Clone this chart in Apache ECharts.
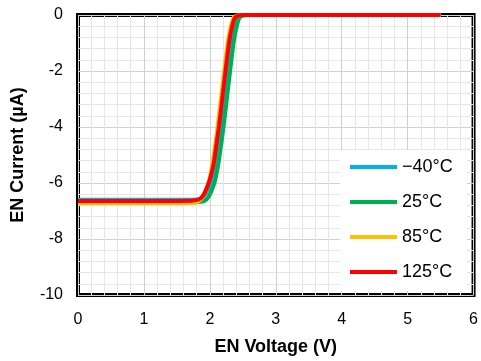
<!DOCTYPE html>
<html>
<head>
<meta charset="utf-8">
<script src="https://cdn.jsdelivr.net/npm/echarts@6/dist/echarts.min.js"></script>
<style>
  html, body { margin: 0; padding: 0; background: #fff; }
  #main { width: 481px; height: 361px; }
</style>
</head>
<body>
<div id="main"></div>
<script>
// EN current vs EN voltage, one curve per temperature
const seriesNames = ["\u221240\u00b0C", "25\u00b0C", "85\u00b0C", "125\u00b0C"]
const seriesColors = ["#00b0f0", "#00b050", "#ffc000", "#ff0000"]

const curveM40 = [
  [0, -6.6], [1, -6.6], [1.74, -6.6], [1.87, -6.56], [1.93, -6.42], [1.98, -6.18],
  [2.03, -5.85], [2.09, -5.25], [2.13, -4.6], [2.17, -3.95], [2.21, -3.15],
  [2.25, -2.35], [2.29, -1.55], [2.33, -0.85], [2.37, -0.38], [2.41, -0.1],
  [2.46, -0.02], [2.53, 0], [5.5, 0]
]
const curve25 = [
  [0, -6.7], [1, -6.7], [1.8, -6.69], [1.92, -6.64], [1.98, -6.5], [2.03, -6.25],
  [2.08, -5.9], [2.13, -5.3], [2.17, -4.65], [2.21, -3.95], [2.25, -3.15],
  [2.29, -2.35], [2.33, -1.55], [2.37, -0.85], [2.41, -0.38], [2.45, -0.1],
  [2.5, -0.02], [2.57, 0], [5.5, 0]
]
const curve85 = [
  [0, -6.72], [1, -6.72], [1.72, -6.71], [1.83, -6.66], [1.89, -6.5], [1.94, -6.25],
  [1.99, -5.9], [2.04, -5.3], [2.08, -4.65], [2.12, -3.95], [2.16, -3.15],
  [2.2, -2.35], [2.24, -1.55], [2.28, -0.85], [2.32, -0.38], [2.36, -0.1],
  [2.41, -0.02], [2.48, 0], [5.5, 0]
]
const curve125 = [
  [0, -6.64], [1, -6.64], [1.72, -6.63], [1.84, -6.58], [1.9, -6.44], [1.95, -6.2],
  [2.0, -5.88], [2.06, -5.28], [2.1, -4.62], [2.14, -3.95], [2.18, -3.15],
  [2.22, -2.35], [2.26, -1.55], [2.3, -0.85], [2.34, -0.38], [2.38, -0.1],
  [2.43, -0.02], [2.5, 0], [5.5, 0]
]
const curves = [curveM40, curve25, curve85, curve125]

const font = "Liberation Sans, Arial, sans-serif"

const myChart = echarts.init(document.getElementById("main"))
myChart.setOption({
  animation: false,
  textStyle: { fontFamily: font },
  grid: {
    left: 78, right: 6, top: 15, bottom: 65,
    show: true, borderColor: "#000", borderWidth: 4, backgroundColor: "#fff"
  },
  legend: {
    orient: "vertical",
    left: 340, top: 150,
    padding: [8, 14, 10, 10],
    backgroundColor: "#fff",
    itemWidth: 47, itemHeight: 4, itemGap: 17,
    icon: "rect",
    textStyle: { fontSize: 18, color: "#000", fontFamily: font, lineHeight: 18 },
    data: seriesNames
  },
  xAxis: {
    type: "value", min: 0, max: 6, interval: 1,
    name: "EN Voltage (V)", nameLocation: "middle", nameGap: 43,
    nameTextStyle: { fontSize: 18, fontWeight: "bold", color: "#000", fontFamily: font },
    axisLine: { show: false }, axisTick: { show: false },
    axisLabel: { fontSize: 16, color: "#000", margin: 17, fontFamily: font },
    splitLine: { lineStyle: { color: "#d0d0d0", width: 1 } },
    minorTick: { show: true, splitNumber: 5, length: 0 },
    minorSplitLine: { show: true, lineStyle: { color: "#e6e6e6", width: 1 } }
  },
  yAxis: {
    type: "value", min: -10, max: 0, interval: 2,
    name: "EN Current (\u00b5A)", nameLocation: "middle", nameGap: 51,
    nameTextStyle: { fontSize: 18, fontWeight: "bold", color: "#000", fontFamily: font },
    axisLine: { show: false }, axisTick: { show: false },
    axisLabel: { fontSize: 16, color: "#000", margin: 15, fontFamily: font },
    splitLine: { lineStyle: { color: "#d0d0d0", width: 1 } },
    minorTick: { show: true, splitNumber: 5, length: 0 },
    minorSplitLine: { show: true, lineStyle: { color: "#e6e6e6", width: 1 } }
  },
  series: curves.map((c, i) => ({
    name: seriesNames[i],
    type: "line",
    data: c,
    showSymbol: false,
    smooth: 0.2,
    color: seriesColors[i],
    lineStyle: { width: 4, color: seriesColors[i] }
  }))
})
</script>
</body>
</html>
